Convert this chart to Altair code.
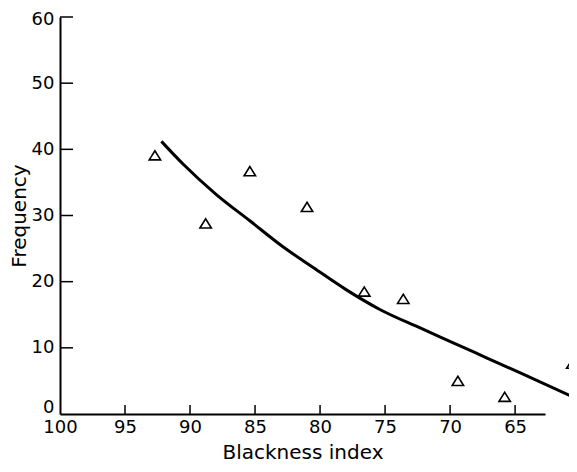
import altair as alt
import pandas as pd

# Observed points (Blackness index, Frequency)
pt_x = [92.7, 88.8, 85.4, 81.0, 76.6, 73.6, 69.4, 65.8, 60.6]
pt_y = [39.1, 28.8, 36.7, 31.3, 18.5, 17.4, 5.0, 2.6, 7.6]

# Fitted curve
cv_x = [92.2, 90.5, 88.0, 85.4, 82.8, 80.5, 78.0, 75.4, 72.3, 69.8, 67.2, 64.6, 60.7]
cv_y = [41.2, 37.7, 33.2, 29.2, 25.2, 22.1, 18.8, 15.8, 13.0, 10.8, 8.5, 6.2, 2.7]

x_ticks = [100, 95, 90, 85, 80, 75, 70, 65]
y_ticks = [0, 10, 20, 30, 40, 50, 60]
x_domain = [100, 62.7]
y_domain = [0, 60]

W, H = 485, 397
FONT = "DejaVu Sans"

pts = pd.DataFrame({"x": pt_x, "y": pt_y})
cv = pd.DataFrame({"x": cv_x, "y": cv_y})
xt = pd.DataFrame({"v": x_ticks[1:]})
yt = pd.DataFrame({"v": y_ticks[1:]})

xs = alt.Scale(domain=x_domain, nice=False, zero=False)
ys = alt.Scale(domain=y_domain, nice=False, zero=False)

xaxis = alt.Axis(values=x_ticks, title="Blackness index", ticks=False, tickSize=0,
                 grid=False, labelFlush=False, labelOverlap=False, labelPadding=4,
                 titlePadding=6, domainColor="black", domainWidth=2)
yaxis = alt.Axis(values=y_ticks, title="Frequency", ticks=False, tickSize=0,
                 grid=False, labelFlush=False, labelOverlap=False, labelPadding=6,
                 labelOffset={"condition": [{"test": "datum.value == 0", "value": -7},
                                            {"test": "datum.value == 60", "value": 2}],
                              "value": 0},
                 titlePadding=2, domainColor="black", domainWidth=2)

line = alt.Chart(cv).mark_line(color="black", strokeWidth=3, interpolate="monotone").encode(
    x=alt.X("x:Q", scale=xs, axis=xaxis),
    y=alt.Y("y:Q", scale=ys, axis=yaxis),
)

tri = "M-1,0.8L0,-0.8L1,0.8Z"
points = alt.Chart(pts).mark_point(shape=tri, size=130, filled=False, color="black",
                                    strokeWidth=1.6, opacity=1).encode(
    x=alt.X("x:Q", scale=xs),
    y=alt.Y("y:Q", scale=ys),
)

xticks = alt.Chart(xt).mark_rule(color="black", strokeWidth=1.5).encode(
    x=alt.X("v:Q", scale=xs), y=alt.value(H), y2=alt.value(H - 9)
)
yticks = alt.Chart(yt).mark_rule(color="black", strokeWidth=1.5).encode(
    y=alt.Y("v:Q", scale=ys), x=alt.value(0), x2=alt.value(13)
)

chart = alt.layer(line, points, xticks, yticks).properties(
    width=W, height=H,
    autosize=alt.AutoSizeParams(type="none"),
    padding={"left": 52, "top": 9, "right": 24, "bottom": 50},
).configure_view(stroke=None).configure_axis(
    labelFont=FONT, titleFont=FONT, labelFontSize=18, titleFontSize=20,
    labelColor="black", titleColor="black", titleFontWeight="normal",
)

chart.save("out.html", embed_options={"renderer": "svg", "actions": False})
